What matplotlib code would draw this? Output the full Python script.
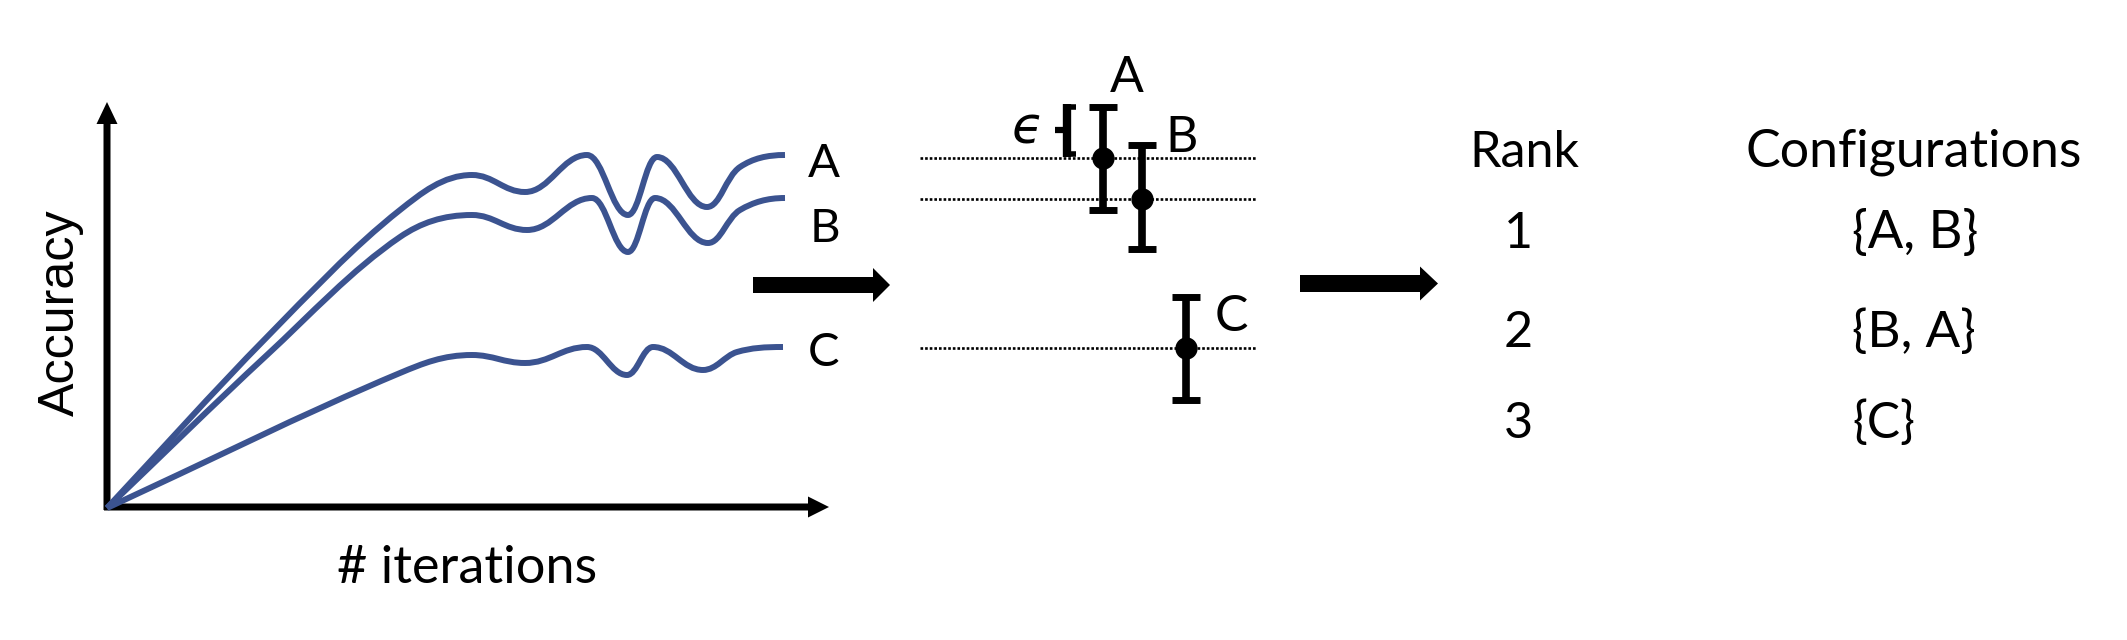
import matplotlib
matplotlib.use("Agg")
import matplotlib.pyplot as plt
from matplotlib.patches import FancyArrow, PathPatch
from matplotlib.path import Path
import numpy as np

# ---------------- data (pixel units) ----------------
curve_names = ["A", "B", "C"]
curve_A_x = [107, 267, 400, 472, 525, 587, 628, 657, 707, 740, 785]
curve_A_y = [508, 337, 210, 175, 192, 155, 215, 157, 207, 167, 155]
curve_B_x = [107, 267, 400, 472, 527, 592, 628, 655, 708, 740, 785]
curve_B_y = [508, 355, 237, 215, 230, 198, 252, 198, 243, 210, 198]
curve_C_x = [107, 400, 472, 525, 587, 627, 653, 703, 737, 783]
curve_C_y = [508, 373, 355, 363, 347, 375, 347, 370, 352, 347]
curve_label_pos = [(824, 177), (825, 242), (823, 366)]

# error-bar panel
eb_names = ["A", "B", "C"]
eb_x = [1103, 1142, 1186]
eb_y = [158, 199, 348]
eb_err_up = [51, 54, 51]
eb_err_down = [52, 50, 52]
eb_label_pos = [(1127, 92), (1182, 152), (1231, 331)]
dot_x0, dot_x1 = 920, 1257

# ranking table
rank_header = "Rank"
config_header = "Configurations"
ranks = ["1", "2", "3"]
configs = ["{A, B}", "{B, A}", "{C}"]
row_baselines = [248, 347, 438]
config_widths = [126, 123, 63]

curve_color = "#3B5390"

# ---------------- figure ----------------
W, H = 2127, 640
fig = plt.figure(figsize=(W / 100, H / 100), dpi=100)
ax = fig.add_axes([0, 0, 1, 1])
ax.set_xlim(0, W)
ax.set_ylim(H, 0)
ax.axis("off")
renderer = fig.canvas.get_renderer()

CAL = ["Lato", "DejaVu Sans"]


def fit_text(x, y, s, target, family, ha="left", va="baseline", rotation=0, start=30, **kw):
    t = ax.text(x, y, s, fontsize=start, family=family, ha=ha, va=va, rotation=rotation, **kw)
    bb = t.get_window_extent(renderer)
    w = bb.height if rotation == 90 else bb.width
    t.set_fontsize(start * target / w)
    return t


def smooth_path(xs, ys, k=0.4):
    """Smooth Bezier path through the points; flat tangents at extrema and at the end."""
    P = np.column_stack([xs, ys]).astype(float)
    n = len(P)
    T = np.zeros_like(P)
    ext = np.zeros(n, dtype=bool)
    for i in range(n):
        if i == 0:
            v = P[1] - P[0]
        elif i == n - 1:
            v = np.array([1.0, 0.0])
            ext[i] = True
        else:
            if (P[i, 1] - P[i - 1, 1]) * (P[i + 1, 1] - P[i, 1]) < 0:
                v = np.array([1.0, 0.0])
                ext[i] = True
            else:
                v = P[i + 1] - P[i - 1]
        T[i] = v / np.linalg.norm(v)
    verts = [P[0]]
    codes = [Path.MOVETO]
    for i in range(n - 1):
        dx = P[i + 1, 0] - P[i, 0]
        chord = np.linalg.norm(P[i + 1] - P[i])
        h0 = k * dx if ext[i] else chord / 3.0
        h1 = k * dx if ext[i + 1] else chord / 3.0
        verts += [P[i] + T[i] * h0, P[i + 1] - T[i + 1] * h1, P[i + 1]]
        codes += [Path.CURVE4] * 3
    return Path(verts, codes)


# ---- left panel: axes arrows ----
ax.add_patch(FancyArrow(107, 510, 0, 102 - 510, width=7, head_width=21, head_length=22,
                        length_includes_head=True, color="black", lw=0))
ax.add_patch(FancyArrow(104, 507, 829 - 104, 0, width=7, head_width=21, head_length=21,
                        length_includes_head=True, color="black", lw=0))

for xs, ys in [(curve_A_x, curve_A_y), (curve_B_x, curve_B_y), (curve_C_x, curve_C_y)]:
    ax.add_patch(PathPatch(smooth_path(xs, ys), fill=False, edgecolor=curve_color,
                           lw=4.3, capstyle="butt", joinstyle="round"))

for name, (lx, ly) in zip(curve_names, curve_label_pos):
    ax.text(lx, ly, name, fontsize=34, family=CAL, ha="center", va="baseline")

fit_text(61, 313, "Accuracy", 207, ["Liberation Sans", "DejaVu Sans"], ha="center", va="center", rotation=90)
fit_text(337, 583, "# iterations", 260, CAL)

# ---- arrows between panels ----
ax.add_patch(FancyArrow(753, 285, 890 - 753, 0, width=16, head_width=34, head_length=17,
                        length_includes_head=True, color="black", lw=0))
ax.add_patch(FancyArrow(1300, 283.5, 1438 - 1300, 0, width=17, head_width=34, head_length=18,
                        length_includes_head=True, color="black", lw=0))

# ---- middle panel: error bars ----
ax.hlines(eb_y, dot_x0, dot_x1, colors="black", linestyles=(0, (1, 0.75)), lw=1.9)
ax.errorbar(eb_x, eb_y, yerr=[eb_err_up, eb_err_down], fmt="o", color="black",
            ms=15, elinewidth=5.5, capsize=10, capthick=5)
for name, (lx, ly) in zip(eb_names, eb_label_pos):
    ax.text(lx, ly, name, fontsize=36, family=CAL, ha="center", va="baseline")

# epsilon bracket
ax.plot([1067, 1067], [104, 157], color="black", lw=6, solid_capstyle="butt")
ax.plot([1063, 1076], [107, 107], color="black", lw=4, solid_capstyle="butt")
ax.plot([1063, 1076], [154, 154], color="black", lw=4, solid_capstyle="butt")
ax.plot([1055, 1066], [130, 130], color="black", lw=4.5, solid_capstyle="butt")
ax.text(1027, 143, "\u03f5", fontsize=37, family=["DejaVu Sans"], style="italic",
        ha="center", va="baseline")

# ---- right panel: ranking ----
rank_t = fit_text(1469, 167, rank_header, 110, CAL)
fit_text(1745, 167, config_header, 337, CAL)
rank_fs = rank_t.get_fontsize()
for r, yb in zip(ranks, row_baselines):
    ax.text(1518, yb, r, fontsize=rank_fs, family=CAL, ha="center", va="baseline")
for c, yb, w in zip(configs, row_baselines, config_widths):
    fit_text(1852, yb, c, w, CAL)

fig.savefig("out.png", dpi=100, facecolor="white")
